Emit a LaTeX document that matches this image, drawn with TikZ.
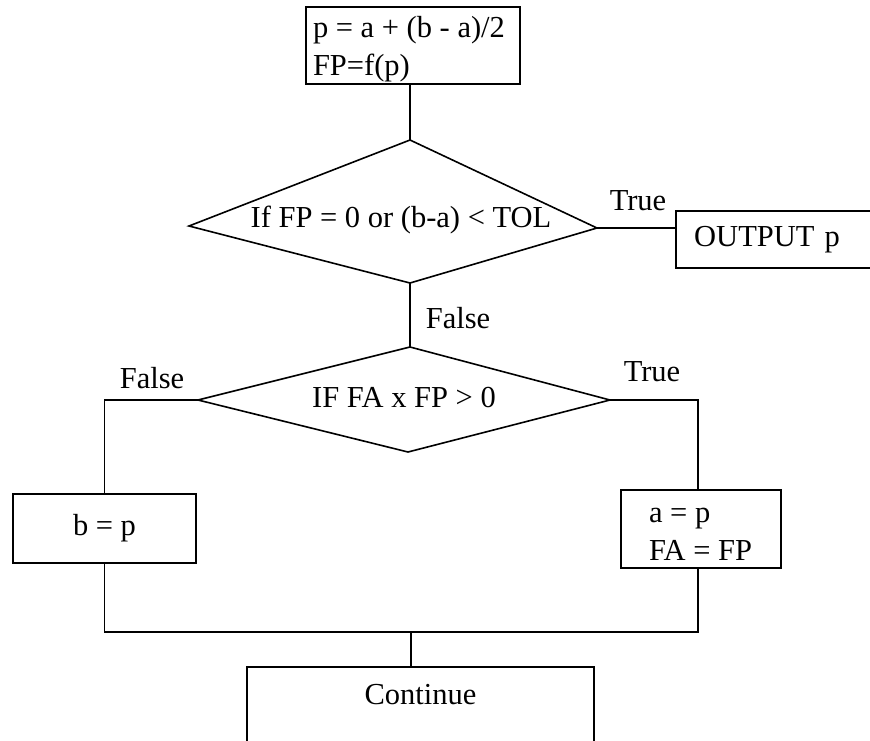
\documentclass[tikz,border=0pt]{standalone}
\usepackage{fontspec}
\setmainfont{Liberation Serif}
\newcommand{\lline}[2]{\makebox[#1][l]{\strut #2}}
\newcommand{\fline}[3]{\makebox[#1][l]{\strut\rule{0pt}{#3}#2}}
\begin{document}
\begin{tikzpicture}[x=1pt,y=-1pt,
  every node/.style={font=\fontsize{30.5}{38}\selectfont, inner sep=0pt},
  box/.style={draw, line width=2.4pt, rectangle},
  conn/.style={line width=1.6pt},
  dia/.style={line width=1.6pt, line join=miter}]
\useasboundingbox (0,0) rectangle (870,740);

% boxes
\node[box, minimum width=214pt, minimum height=77pt, inner ysep=-3pt, align=left] (init) at (413,45.5)
  {\fline{200pt}{p = a + (b - a)/2}{32.6pt}\\\lline{200pt}{FP=f(p)}};
\node[box, anchor=west, minimum height=57pt, text width=200pt, inner xsep=18pt, align=left] (out) at (675,239.5) {OUTPUT p};
\node[box, minimum width=183pt, minimum height=69pt] (bp) at (104.5,528.5) {b = p};
\node[box, minimum width=160pt, minimum height=78pt, inner ysep=-4pt, align=left] (ap) at (701,529)
  {\fline{104pt}{a = p}{36.6pt}\\\lline{104pt}{FA = FP}};
\node[box, anchor=north, minimum width=347pt, text height=27pt, text depth=60pt, inner ysep=10pt] (cont) at (420.5,666) {Continue};

% diamond 1
\coordinate (t1) at (410,140);
\coordinate (r1) at (597,228);
\coordinate (b1) at (410,283);
\coordinate (l1) at (189,226);
\draw[dia] (t1) -- (r1) -- (b1) -- (l1) -- cycle;
\node (q1) at (401,220) {If FP = 0 or (b-a) < TOL};

% diamond 2
\coordinate (t2) at (410,347);
\coordinate (r2) at (610,400);
\coordinate (b2) at (408,452);
\coordinate (l2) at (198,400);
\draw[dia] (t2) -- (r2) -- (b2) -- (l2) -- cycle;
\node (q2) at (404,397) {IF FA x FP > 0};

% labels
\node (lt1) at (638,201) {True};
\node (lf1) at (458,318) {False};
\node (lf2) at (152,378) {False};
\node (lt2) at (652,372) {True};

% connectors
\coordinate (rb) at (698,400);
\coordinate (j) at (411,632);
\draw[conn] (init.south -| t1) -- (t1);
\draw[conn] (r1) -- (r1 -| out.west);
\draw[conn] (b1) -- (t2);
\draw[conn] (l2) -| (bp.north);
\draw[conn] (r2) -- (rb) -- (rb |- ap.north);
\draw[conn] (bp.south) |- (j) -- (j -| rb) -- (rb |- ap.south);
\draw[conn] (j) -- (j |- cont.north);
\end{tikzpicture}
\end{document}
